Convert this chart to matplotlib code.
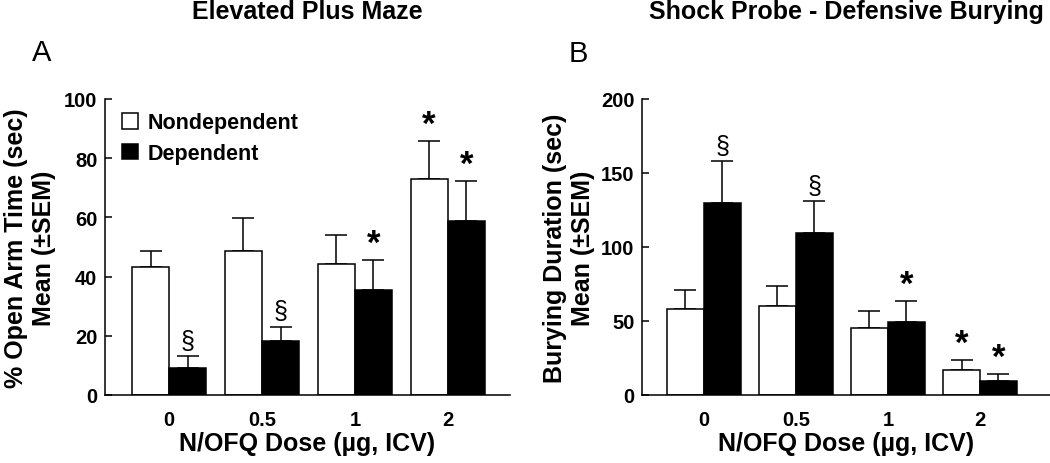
import matplotlib.pyplot as plt
import numpy as np
from matplotlib.patches import Rectangle

plt.rcParams["font.family"] = ["Liberation Sans", "DejaVu Sans"]

doses = ["0", "0.5", "1", "2"]
groups = ["Nondependent", "Dependent"]

# Elevated plus maze, % open arm time
epm_nondep = [43.1, 48.8, 44.3, 73.0]
epm_nondep_sem = [5.7, 10.9, 9.9, 12.8]
epm_dep = [9.2, 18.4, 35.6, 58.7]
epm_dep_sem = [3.8, 4.7, 10.1, 13.7]

# Shock probe defensive burying, seconds
spdb_nondep = [58.4, 59.8, 45.4, 17.1]
spdb_nondep_sem = [12.2, 13.9, 11.0, 6.5]
spdb_dep = [129.9, 109.7, 49.2, 9.7]
spdb_dep_sem = [28.1, 21.1, 14.2, 4.5]

# significance marks over each bar
nondep_marks = ["", "", "", "*"]
dep_marks = ["§", "§", "*", "*"]

fig = plt.figure(figsize=(10.5, 4.64), dpi=100)
ax1 = fig.add_axes([0.100, 0.1466, 0.3857, 0.638])
ax2 = fig.add_axes([0.6114, 0.1466, 0.3886, 0.638])

x = np.arange(len(doses))
w = 0.4


def panel(ax, nd, nd_sem, dp, dp_sem, ymax, step, ylabel, title, lpad):
    ax.bar(x - w / 2, nd, w, color="white", edgecolor="black", linewidth=1.1, zorder=2)
    ax.bar(x + w / 2, dp, w, color="black", edgecolor="black", linewidth=1.1, zorder=2)
    for xs, v, s in [(x - w / 2, nd, nd_sem), (x + w / 2, dp, dp_sem)]:
        ax.errorbar(xs, v, yerr=[np.zeros(len(s)), s], fmt="none", ecolor="black",
                    elinewidth=1.1, capsize=8, capthick=1.1, zorder=1)
    for xs, v, s, marks in [(x - w / 2, nd, nd_sem, nondep_marks),
                            (x + w / 2, dp, dp_sem, dep_marks)]:
        for xi, vi, si, m in zip(xs, v, s, marks):
            if m == "*":
                ax.annotate(m, (xi, vi + si), xytext=(0, 5), textcoords="offset points",
                            ha="center", va="baseline", fontsize=25, fontweight="bold")
            elif m:
                ax.annotate(m, (xi, vi + si), xytext=(0, 6), textcoords="offset points",
                            ha="center", va="baseline", fontsize=18)
    ax.set_ylim(0, ymax)
    ax.set_yticks(np.arange(0, ymax + 1, step))
    ax.set_xticks(x)
    ax.set_xticklabels(doses)
    ax.spines["top"].set_visible(False)
    ax.spines["right"].set_visible(False)
    ax.spines["left"].set_linewidth(1.1)
    ax.spines["bottom"].set_linewidth(1.1)
    ax.tick_params(axis="y", direction="in", length=5, width=1.1, pad=5.5,
                   labelsize=14.5)
    ax.tick_params(axis="x", length=0, pad=10.5, labelsize=14.5)
    for lab in ax.get_xticklabels() + ax.get_yticklabels():
        lab.set_fontweight("bold")
    ax.set_xlabel("N/OFQ Dose (µg, ICV)", fontsize=18, fontweight="bold", labelpad=2)
    ax.set_ylabel(ylabel, fontsize=18, fontweight="bold", labelpad=lpad)
    ax.set_title(title, fontsize=18, fontweight="bold", pad=58)


panel(ax1, epm_nondep, epm_nondep_sem, epm_dep, epm_dep_sem, 100, 20,
      "% Open Arm Time (sec)\nMean (±SEM)", "Elevated Plus Maze", 6)
ax1.set_xlim(-0.69, 3.67)
panel(ax2, spdb_nondep, spdb_nondep_sem, spdb_dep, spdb_dep_sem, 200, 50,
      "Burying Duration (sec)\nMean (±SEM)", "Shock Probe - Defensive Burying", 4)
ax2.set_xlim(-0.67, 3.76)

handles = [Rectangle((0, 0), 1, 1, facecolor="white", edgecolor="black", linewidth=1.1),
           Rectangle((0, 0), 1, 1, facecolor="black", edgecolor="black", linewidth=1.1)]
leg = ax1.legend(handles, groups, loc="upper left", bbox_to_anchor=(0.042, 0.955),
                 frameon=False, borderpad=0, borderaxespad=0, handlelength=0.75,
                 handleheight=0.75, handletextpad=0.45, labelspacing=0.45,
                 prop={"size": 15.5, "weight": "bold"})

fig.text(0.040, 0.885, "A", fontsize=21, ha="center", va="center")
fig.text(0.551, 0.884, "B", fontsize=21, ha="center", va="center")

fig.savefig("out.png", dpi=100)
